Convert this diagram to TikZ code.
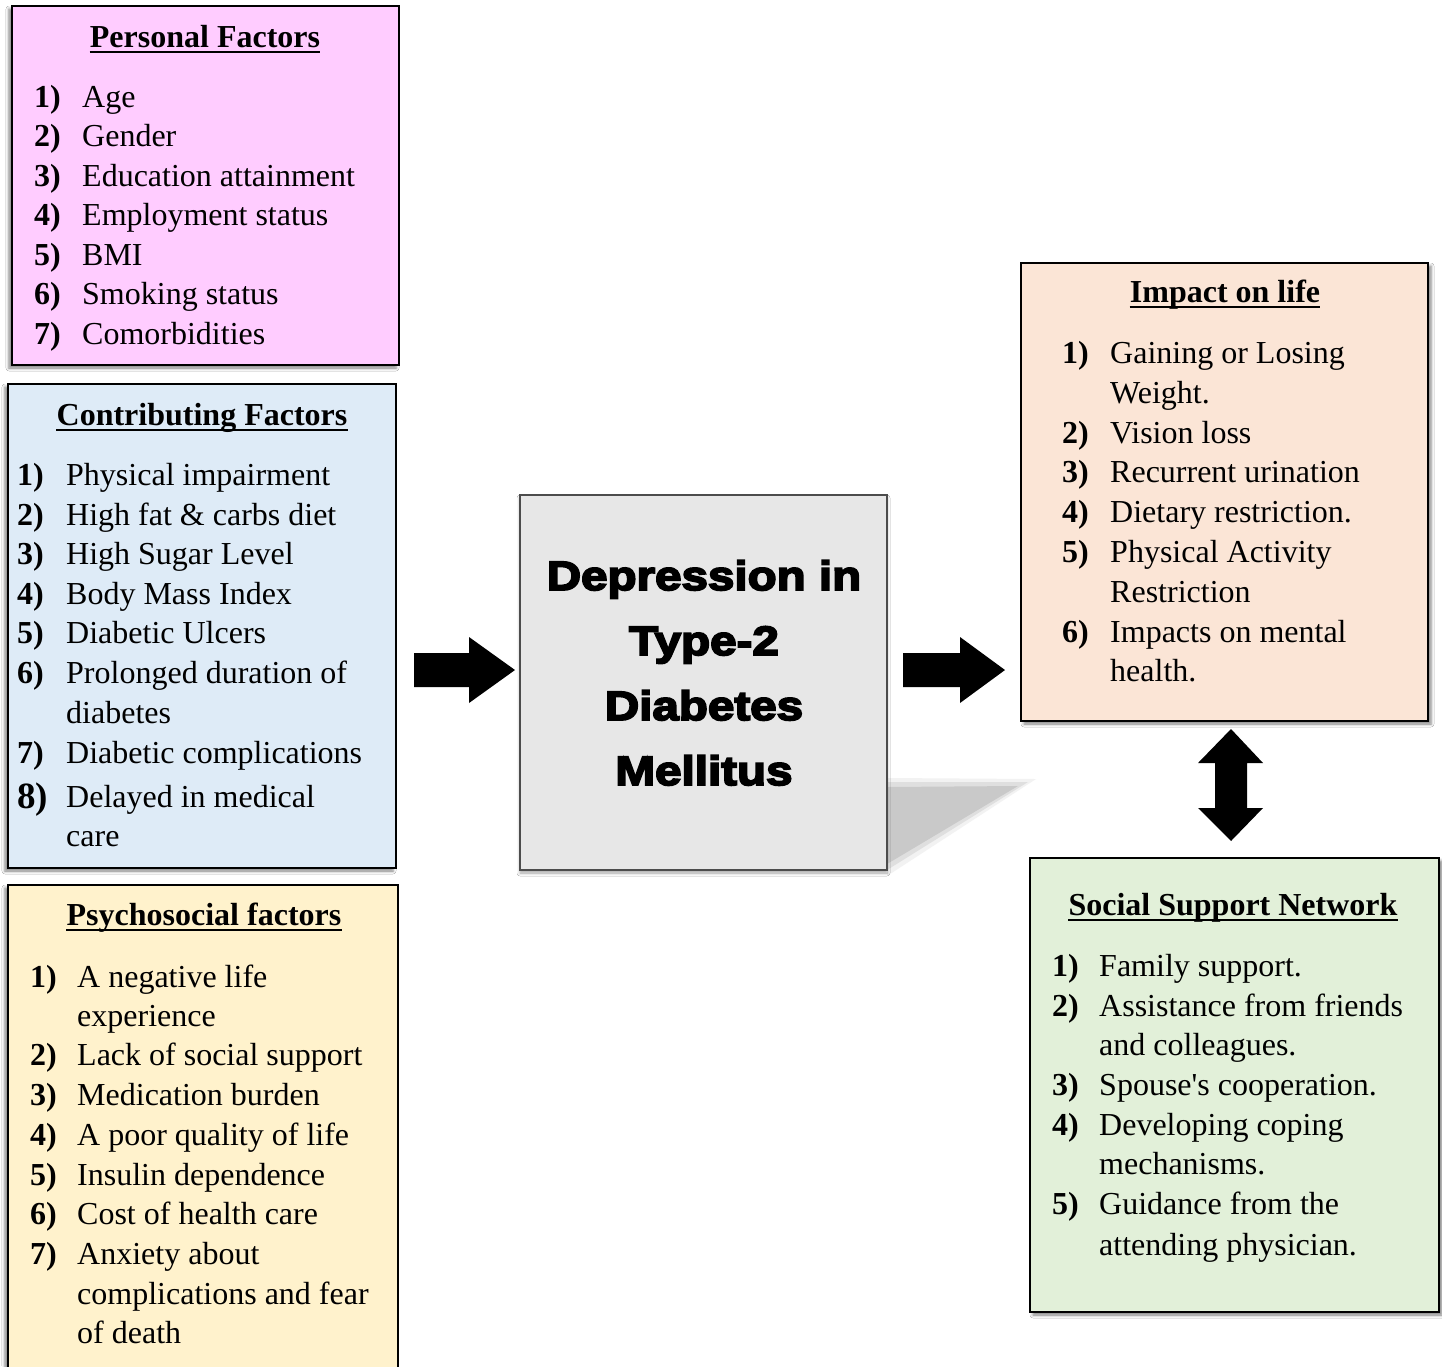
\documentclass[tikz,border=0pt]{standalone}
\usepackage{fontspec}
\setmainfont{Liberation Serif}[Ligatures=TeXOff]
\newfontfamily\heavyfont{Liberation Sans}[UprightFont={* Bold}, FakeBold=4.5, FakeStretch=1.16]
\usetikzlibrary{shadows,shadows.blur}
\definecolor{pinkc}{HTML}{FFCCFF}
\definecolor{bluec}{HTML}{DEEBF7}
\definecolor{yellowc}{HTML}{FFF2CC}
\definecolor{peachc}{HTML}{FBE5D6}
\definecolor{greenc}{HTML}{E2F0D9}
\definecolor{centerc}{HTML}{E7E7E7}
\newcommand\numitem[6]{\node[num] (#1n) at (#2,#4) {#5}; \node[itm] (#1t) at (#3,#4) {#6};}
\newcommand\contline[4]{\node[itm] (#1) at (#2,#3) {#4};}
\newcommand\titleline[4]{\node[ttl] (#1) at (#2,#3) {#4};
  \draw[line width=1.8pt] ([yshift=-5pt]#1.base west) -- ([yshift=-5pt]#1.base east);}
\begin{document}
\begin{tikzpicture}[x=1pt,y=-1pt,
  box/.style={draw=black, line width=2.2pt, rectangle, inner sep=0pt},
  lshadow/.style={blur shadow={shadow xshift=-3pt, shadow yshift=-3pt, shadow blur radius=3pt, shadow opacity=50}},
  rshadow/.style={blur shadow={shadow xshift=3pt, shadow yshift=-3pt, shadow blur radius=3pt, shadow opacity=50}},
  ttl/.style={font=\fontsize{32}{38}\selectfont\bfseries, inner sep=0pt, anchor=base},
  num/.style={font=\fontsize{32}{38}\selectfont\bfseries, inner sep=0pt, anchor=base west},
  itm/.style={font=\fontsize{32}{38}\selectfont, inner sep=0pt, anchor=base west},
  ctrtxt/.style={font=\heavyfont\fontsize{41}{48}\selectfont, inner sep=0pt, anchor=base},
  blk/.style={fill=black}
]
\useasboundingbox (0,0) rectangle (1442,1366);
\fill[white] (0,0) rectangle (1442,1366);

% ---------- boxes ----------
\node[box, lshadow, fill=pinkc, minimum width=387pt, minimum height=359pt] (pf) at (205.5,185.5) {};
\node[box, lshadow, fill=bluec, minimum width=388pt, minimum height=484pt] (cf) at (202,626) {};
\node[box, lshadow, fill=yellowc, minimum width=390pt, minimum height=505pt] (ps) at (203,1137.5) {};

% shadow of the centre box
\fill[gray!10] (887,778) -- (1036,779) -- (887,876) -- cycle;
\fill[gray!25] (887,782) -- (1028,782) -- (887,870) -- cycle;
\fill[gray!42] (887,787) -- (1018,786) -- (887,864) -- cycle;

\node[draw=black!70, line width=1.2pt, fill=centerc, minimum width=367pt, minimum height=375pt,
  blur shadow={shadow xshift=0pt, shadow yshift=-3pt, shadow blur radius=3pt, shadow opacity=35}] (ctr) at (703.5,682.5) {};
\node[box, rshadow, fill=peachc, minimum width=407pt, minimum height=458pt] (im) at (1224.5,492) {};
\node[box, rshadow, fill=greenc, minimum width=409pt, minimum height=454pt] (ss) at (1234.5,1085) {};

% ---------- block arrows ----------
\coordinate (a1) at (414,670);
\fill[blk] (a1) ++(0,-17) -- ++(55,0) -- ++(0,-16) -- ++(46,33) -- ++(-46,33) -- ++(0,-16) -- ++(-55,0) -- cycle;
\coordinate (a2) at (903,670);
\fill[blk] (a2) ++(0,-17) -- ++(57,0) -- ++(0,-16) -- ++(45,33) -- ++(-45,33) -- ++(0,-16) -- ++(-57,0) -- cycle;
\coordinate (a3) at (1231,729);
\fill[blk] (a3) -- ++(32,34) -- ++(-16,0) -- ++(0,45) -- ++(16,0) -- ++(-32,33) -- ++(-33,-33) -- ++(17,0) -- ++(0,-45) -- ++(-17,0) -- cycle;

% ---------- centre text ----------
\node[ctrtxt] (c1) at (704,590) {Depression in};
\node[ctrtxt] (c2) at (704,655) {Type-2};
\node[ctrtxt] (c3) at (704,720) {Diabetes};
\node[ctrtxt] (c4) at (704,785) {Mellitus};

% ---------- Personal factors ----------
\titleline{pft}{205}{47}{Personal Factors}
\numitem{pf1}{34}{82}{107}{1)}{Age}
\numitem{pf2}{34}{82}{146.5}{2)}{Gender}
\numitem{pf3}{34}{82}{186}{3)}{Education attainment}
\numitem{pf4}{34}{82}{225.5}{4)}{Employment status}
\numitem{pf5}{34}{82}{265}{5)}{BMI}
\numitem{pf6}{34}{82}{304.5}{6)}{Smoking status}
\numitem{pf7}{34}{82}{344}{7)}{Comorbidities}

% ---------- Contributing factors ----------
\titleline{cft}{202}{425}{Contributing Factors}
\numitem{cf1}{17}{66}{485}{1)}{Physical impairment}
\numitem{cf2}{17}{66}{525}{2)}{High fat \& carbs diet}
\numitem{cf3}{17}{66}{564.5}{3)}{High Sugar Level}
\numitem{cf4}{17}{66}{604}{4)}{Body Mass Index}
\numitem{cf5}{17}{66}{643.5}{5)}{Diabetic Ulcers}
\numitem{cf6}{17}{66}{683}{6)}{Prolonged duration of}
\contline{cf6b}{66}{723}{diabetes}
\numitem{cf7}{17}{66}{763}{7)}{Diabetic complications}
\node[num, font=\fontsize{37}{40}\selectfont\bfseries] (cf8n) at (17,808) {8)};
\node[itm] (cf8t) at (66,807) {Delayed in medical};
\contline{cf8b}{66}{846}{care}

% ---------- Psychosocial factors ----------
\titleline{pst}{204}{925}{Psychosocial factors}
\numitem{ps1}{30}{77}{987}{1)}{A negative life}
\contline{ps1b}{77}{1026}{experience}
\numitem{ps2}{30}{77}{1065}{2)}{Lack of social support}
\numitem{ps3}{30}{77}{1105}{3)}{Medication burden}
\numitem{ps4}{30}{77}{1145}{4)}{A poor quality of life}
\numitem{ps5}{30}{77}{1185}{5)}{Insulin dependence}
\numitem{ps6}{30}{77}{1224}{6)}{Cost of health care}
\numitem{ps7}{30}{77}{1264}{7)}{Anxiety about}
\contline{ps7b}{77}{1304}{complications and fear}
\contline{ps7c}{77}{1343}{of death}

% ---------- Impact on life ----------
\titleline{imt}{1225}{302}{Impact on life}
\numitem{im1}{1062}{1110}{363}{1)}{Gaining or Losing}
\contline{im1b}{1110}{403}{Weight.}
\numitem{im2}{1062}{1110}{443}{2)}{Vision loss}
\numitem{im3}{1062}{1110}{482}{3)}{Recurrent urination}
\numitem{im4}{1062}{1110}{522}{4)}{Dietary restriction.}
\numitem{im5}{1062}{1110}{562}{5)}{Physical Activity}
\contline{im5b}{1110}{602}{Restriction}
\numitem{im6}{1062}{1110}{642}{6)}{Impacts on mental}
\contline{im6b}{1110}{681}{health.}

% ---------- Social support network ----------
\titleline{sst}{1233}{915}{Social Support Network}
\numitem{ss1}{1052}{1099}{976}{1)}{Family support.}
\numitem{ss2}{1052}{1099}{1016}{2)}{Assistance from friends}
\contline{ss2b}{1099}{1055}{and colleagues.}
\numitem{ss3}{1052}{1099}{1095}{3)}{Spouse's cooperation.}
\numitem{ss4}{1052}{1099}{1135}{4)}{Developing coping}
\contline{ss4b}{1099}{1174}{mechanisms.}
\numitem{ss5}{1052}{1099}{1214}{5)}{Guidance from the}
\contline{ss5b}{1099}{1255}{attending physician.}
\end{tikzpicture}
\end{document}
